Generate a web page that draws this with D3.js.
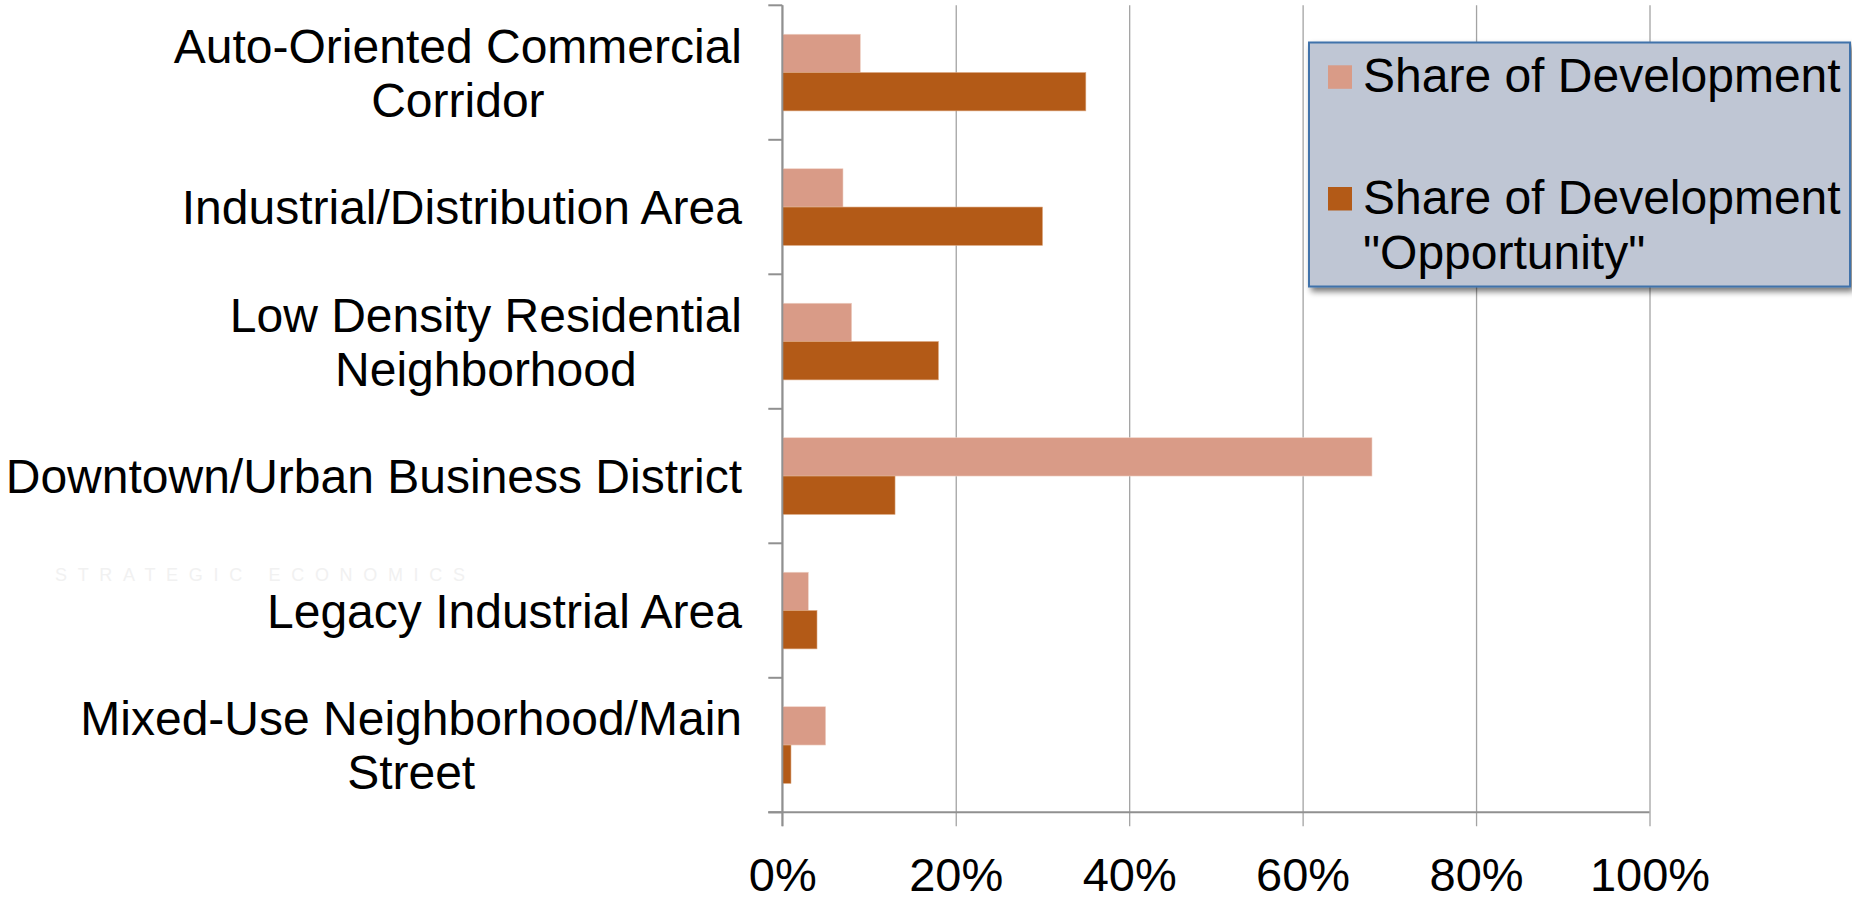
<!DOCTYPE html>
<html>
<head>
<meta charset="utf-8">
<script src="https://cdn.jsdelivr.net/npm/d3@7"></script>
<style>
  html, body { margin: 0; padding: 0; background: #ffffff; }
  svg { display: block; }
  text { font-family: "Liberation Sans", Arial, sans-serif; fill: #000; }
</style>
</head>
<body>
<svg id="chart" width="1852" height="902"></svg>
<script>
// ---- data ----
const categories = [
  "Auto-Oriented Commercial Corridor",
  "Industrial/Distribution Area",
  "Low Density Residential Neighborhood",
  "Downtown/Urban Business District",
  "Legacy Industrial Area",
  "Mixed-Use Neighborhood/Main Street"
];
const categoryLabelLines = [
  ["Auto-Oriented Commercial", "Corridor"],
  ["Industrial/Distribution Area"],
  ["Low Density Residential", "Neighborhood"],
  ["Downtown/Urban Business District"],
  ["Legacy Industrial Area"],
  ["Mixed-Use Neighborhood/Main", "Street"]
];
const seriesNames = ["Share of Development", "Share of Development \"Opportunity\""];
const legendLines = [["Share of Development"], ["Share of Development", "\"Opportunity\""]];
const shareOfDevelopment = [0.09, 0.07, 0.08, 0.68, 0.03, 0.05];
const shareOfOpportunity = [0.35, 0.30, 0.18, 0.13, 0.04, 0.01];
const xTicks = [0, 0.2, 0.4, 0.6, 0.8, 1.0];
const seriesColors = ["#D99B87", "#B35A17"];

// ---- layout ----
const svg = d3.select("#chart");
const plot = { left: 782.3, right: 1649.5, top: 5.3, bottom: 812.3 };
const gridColor = "#a3a3a3";
const axisColor = "#909090";
const tickLen = 14;

const x = d3.scaleLinear().domain([0, 1]).range([plot.left, plot.right]);
const y = d3.scaleBand().domain(categories).range([plot.top, plot.bottom]).paddingInner(0).paddingOuter(0);
const ySub = d3.scaleBand().domain(seriesNames).range([0, y.step()]).paddingInner(0).paddingOuter(0.755);

// faint watermark (logo text behind the labels)
svg.append("text")
  .attr("x", 55).attr("y", 581)
  .attr("textLength", 410).attr("lengthAdjust", "spacing")
  .style("font-size", "18px")
  .style("fill", "#f1f1f1")
  .text("STRATEGIC ECONOMICS");

// gridlines + x tick labels via axis
const xAxis = d3.axisBottom(x)
  .tickValues(xTicks)
  .tickFormat(d3.format(".0%"))
  .tickSizeInner(-(plot.bottom + tickLen - plot.top))
  .tickSizeOuter(0)
  .tickPadding(31);
const gx = svg.append("g")
  .attr("transform", `translate(0,${plot.bottom + tickLen})`)
  .call(xAxis);
gx.select(".domain").remove();
gx.selectAll(".tick line").attr("stroke", gridColor).attr("stroke-width", 1.3);
gx.selectAll(".tick text")
  .style("font-size", "47px")
  .style("font-family", "'Liberation Sans', Arial, sans-serif")
  .attr("fill", "#000");

// bars
const seriesData = [shareOfDevelopment, shareOfOpportunity];
seriesNames.forEach((s, si) => {
  svg.append("g").selectAll("rect")
    .data(categories)
    .join("rect")
    .attr("x", x(0))
    .attr("y", c => y(c) + ySub(s))
    .attr("width", (c, i) => x(seriesData[si][i]) - x(0))
    .attr("height", ySub.bandwidth())
    .attr("fill", seriesColors[si])
    .attr("stroke", si === 0 ? "#efd3c7" : "#d9a27a")
    .attr("stroke-width", 0.6);
});

// axes lines
const boundaries = categories.map(c => y(c)).concat([plot.bottom]);
svg.append("g").selectAll("line")
  .data(boundaries)
  .join("line")
  .attr("x1", plot.left - tickLen).attr("x2", plot.left)
  .attr("y1", d => d).attr("y2", d => d)
  .attr("stroke", axisColor).attr("stroke-width", 2);
svg.append("line")
  .attr("x1", plot.left).attr("x2", plot.left)
  .attr("y1", plot.top).attr("y2", plot.bottom + tickLen)
  .attr("stroke", axisColor).attr("stroke-width", 2);
svg.append("line")
  .attr("x1", plot.left - tickLen).attr("x2", plot.right)
  .attr("y1", plot.bottom).attr("y2", plot.bottom)
  .attr("stroke", axisColor).attr("stroke-width", 2);

// category labels (block right-aligned, lines centered)
const labelRight = 742;
const lineGap = 54;
const gy = svg.append("g");
categories.forEach((c, i) => {
  const lines = categoryLabelLines[i];
  const cy = y(c) + y.bandwidth() / 2;
  const t = gy.append("text")
    .style("font-size", "48px")
    .attr("text-anchor", "middle");
  const n = lines.length;
  lines.forEach((ln, li) => {
    t.append("tspan")
      .attr("y", cy + 17 + (li - (n - 1) / 2) * lineGap)
      .text(ln);
  });
  let maxW = 0;
  t.selectAll("tspan").each(function () { maxW = Math.max(maxW, this.getComputedTextLength()); });
  t.selectAll("tspan").attr("x", labelRight - maxW / 2);
});

// legend
const defs = svg.append("defs");
const f = defs.append("filter").attr("id", "shadow").attr("x", "-5%").attr("y", "-5%").attr("width", "115%").attr("height", "120%");
f.append("feGaussianBlur").attr("in", "SourceAlpha").attr("stdDeviation", 3).attr("result", "b");
f.append("feOffset").attr("in", "b").attr("dx", 3).attr("dy", 4).attr("result", "o");
f.append("feComponentTransfer").attr("in", "o").attr("result", "o2")
  .append("feFuncA").attr("type", "linear").attr("slope", 0.55);
const fm = f.append("feMerge");
fm.append("feMergeNode").attr("in", "o2");
fm.append("feMergeNode").attr("in", "SourceGraphic");

const lg = svg.append("g");
lg.append("rect")
  .attr("x", 1309).attr("y", 42.5)
  .attr("width", 541).attr("height", 244)
  .attr("fill", "#BFC6D4")
  .attr("stroke", "#3F72AA").attr("stroke-width", 2)
  .attr("filter", "url(#shadow)");
const legendBaselines = [92.3, 214];
seriesNames.forEach((s, si) => {
  lg.append("rect")
    .attr("x", 1328).attr("y", legendBaselines[si] - 27)
    .attr("width", 24).attr("height", 23.5)
    .attr("fill", seriesColors[si]);
  const t = lg.append("text").style("font-size", "48px");
  legendLines[si].forEach((ln, li) => {
    t.append("tspan").attr("x", 1363).attr("y", legendBaselines[si] + li * 55.3).text(ln);
  });
});
</script>
</body>
</html>
